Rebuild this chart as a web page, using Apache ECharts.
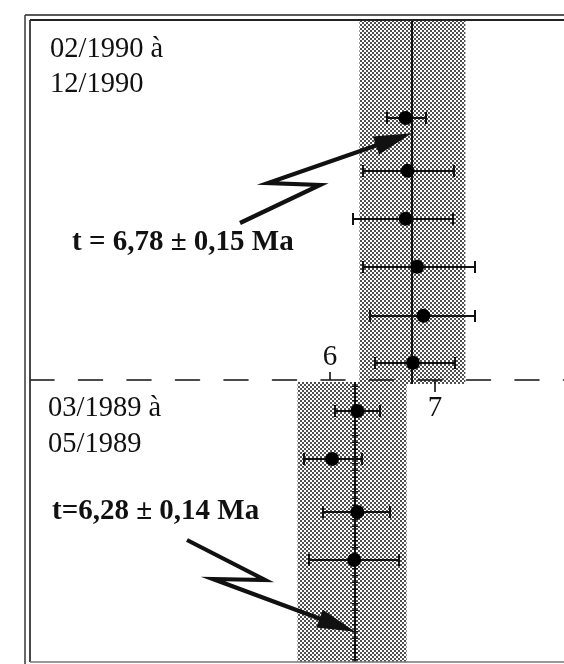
<!DOCTYPE html>
<html>
<head>
<meta charset="utf-8">
<script src="https://cdn.jsdelivr.net/npm/echarts@6/dist/echarts.min.js"></script>
<style>
  html, body { margin: 0; padding: 0; background: #fff; }
  #chart { width: 564px; height: 664px; }
</style>
</head>
<body>
<div id="chart"></div>
<script>
// Upper series (02/1990 - 12/1990), listed top to bottom
const topAges = [6.72, 6.74, 6.72, 6.83, 6.89, 6.79];
const topLow  = [6.54, 6.31, 6.22, 6.31, 6.38, 6.43];
const topHigh = [6.91, 7.18, 7.17, 7.38, 7.38, 7.19];
const topRows = [6.0, 4.92, 3.94, 2.96, 1.96, 1.0];
const topMean = 6.78;
const topErr = 0.15;
const topBand = [6.28, 7.29];

// Lower series (03/1989 - 05/1989), listed top to bottom
const botAges = [6.30, 6.06, 6.30, 6.27];
const botLow  = [6.09, 5.79, 5.97, 5.84];
const botHigh = [6.52, 6.34, 6.61, 6.70];
const botRows = [1.0, 1.97, 3.04, 4.01];
const botMean = 6.28;
const botErr = 0.14;
const botBand = [5.73, 6.77];

// Age axis tick labels (Ma)
const ticksAbove = [6];
const ticksBelow = [7];

const topTitle = ['02/1990 à', '12/1990'];
const botTitle = ['03/1989 à', '05/1989'];

const fmt = v => v.toFixed(2).replace('.', ',');
const topLabel = 't = ' + fmt(topMean) + ' ± ' + fmt(topErr) + ' Ma';
const botLabel = 't=' + fmt(botMean) + ' ± ' + fmt(botErr) + ' Ma';

const SERIF = '"Liberation Serif", "Times New Roman", serif';
const INK = '#111';

// Halftone-like screen for the shaded bands
function screenPattern() {
  const c = document.createElement('canvas');
  c.width = 4; c.height = 4;
  const g = c.getContext('2d');
  g.fillStyle = '#ffffff';
  g.fillRect(0, 0, 4, 4);
  g.fillStyle = '#505050';
  g.fillRect(0, 0, 2, 2);
  g.fillRect(2, 2, 2, 2);
  return { image: c, repeat: 'repeat' };
}
const screen = screenPattern();

function bandItem(extendTop, extendBottom) {
  return function (params, api) {
    const cs = params.coordSys;
    const a = api.coord([api.value(0), api.value(2)]);
    const b = api.coord([api.value(1), api.value(2)]);
    return {
      type: 'rect',
      shape: { x: a[0], y: cs.y - extendTop, width: b[0] - a[0], height: cs.height + extendTop + extendBottom },
      style: { fill: screen }
    };
  };
}

function meanItem(extendTop, extendBottom, hatched) {
  return function (params, api) {
    const cs = params.coordSys;
    const p = api.coord([api.value(0), api.value(1)]);
    const x = Math.round(p[0]);
    const y0 = cs.y - extendTop, y1 = cs.y + cs.height + extendBottom;
    const children = [{
      type: 'line',
      shape: { x1: x, y1: y0, x2: x, y2: y1 },
      style: { stroke: INK, lineWidth: 2 }
    }];
    if (hatched) {
      for (let y = y0 + 4; y < y1; y += 7) {
        children.push({
          type: 'line',
          shape: { x1: x - 3, y1: y + 0.5, x2: x + 3, y2: y + 0.5 },
          style: { stroke: INK, lineWidth: 1 }
        });
      }
    }
    return { type: 'group', children: children };
  };
}

function errItem(params, api) {
  const lo = api.coord([api.value(0), api.value(2)]);
  const hi = api.coord([api.value(1), api.value(2)]);
  const y = Math.round(lo[1]);
  const x0 = Math.round(lo[0]), x1 = Math.round(hi[0]);
  const cap = 6;
  const st = { stroke: INK, lineWidth: 2 };
  return {
    type: 'group',
    children: [
      { type: 'line', shape: { x1: x0, y1: y, x2: x1, y2: y }, style: st },
      { type: 'line', shape: { x1: x0, y1: y - cap, x2: x0, y2: y + cap }, style: st },
      { type: 'line', shape: { x1: x1, y1: y - cap, x2: x1, y2: y + cap }, style: st }
    ]
  };
}

const chart = echarts.init(document.getElementById('chart'), null, { renderer: 'canvas' });

const option = {
  backgroundColor: '#ffffff',
  animation: false,
  grid: [
    { left: 30, right: 0, top: 20, height: 360 },
    { left: 30, right: 0, top: 380, height: 282 }
  ],
  xAxis: [
    {
      gridIndex: 0, type: 'value', min: 3.14, max: 8.23, position: 'bottom', z: 5,
      splitLine: { show: false },
      axisLine: { show: true, onZero: false, lineStyle: { color: INK, width: 1.6, type: [24, 24.5] } },
      axisTick: { show: true, inside: true, length: 8, customValues: ticksAbove, lineStyle: { color: INK, width: 1.6 } },
      axisLabel: { show: true, inside: true, customValues: ticksAbove, margin: 8, color: INK, fontSize: 29, fontFamily: SERIF }
    },
    {
      gridIndex: 0, type: 'value', min: 3.14, max: 8.23, position: 'bottom', z: 5,
      splitLine: { show: false },
      axisLine: { show: false, onZero: false },
      axisTick: { show: true, inside: false, length: 12, customValues: ticksBelow, lineStyle: { color: INK, width: 1.6 } },
      axisLabel: { show: true, customValues: ticksBelow, margin: 14, color: INK, fontSize: 29, fontFamily: SERIF }
    },
    { gridIndex: 1, type: 'value', min: 3.18, max: 8.27, show: false }
  ],
  yAxis: [
    { gridIndex: 0, type: 'value', min: 0.65, max: 8.0, show: false },
    { gridIndex: 1, type: 'value', min: 0.374, max: 6.07, inverse: true, show: false }
  ],
  series: [
    {
      type: 'custom', xAxisIndex: 0, yAxisIndex: 0, z: 1, silent: true,
      data: [[topBand[0], topBand[1], 1]], encode: { x: [0, 1], y: 2 },
      renderItem: bandItem(0, 4)
    },
    {
      type: 'custom', xAxisIndex: 2, yAxisIndex: 1, z: 1, silent: true,
      data: [[botBand[0], botBand[1], 1]], encode: { x: [0, 1], y: 2 },
      renderItem: bandItem(-2, 0)
    },
    {
      type: 'custom', xAxisIndex: 0, yAxisIndex: 0, z: 2, silent: true,
      data: [[topMean, 1]], encode: { x: 0, y: 1 },
      renderItem: meanItem(0, 4, false)
    },
    {
      type: 'custom', xAxisIndex: 2, yAxisIndex: 1, z: 2, silent: true,
      data: [[botMean, 1]], encode: { x: 0, y: 1 },
      renderItem: meanItem(-2, 0, true)
    },
    {
      type: 'custom', xAxisIndex: 0, yAxisIndex: 0, z: 3, silent: true,
      data: topLow.map((v, i) => [v, topHigh[i], topRows[i]]), encode: { x: [0, 1], y: 2 },
      renderItem: errItem
    },
    {
      type: 'custom', xAxisIndex: 2, yAxisIndex: 1, z: 3, silent: true,
      data: botLow.map((v, i) => [v, botHigh[i], botRows[i]]), encode: { x: [0, 1], y: 2 },
      renderItem: errItem
    },
    {
      type: 'scatter', xAxisIndex: 0, yAxisIndex: 0, z: 4, silent: true,
      symbol: 'circle', symbolSize: 14, itemStyle: { color: '#000', opacity: 1 },
      data: topAges.map((v, i) => [v, topRows[i]])
    },
    {
      type: 'scatter', xAxisIndex: 2, yAxisIndex: 1, z: 4, silent: true,
      symbol: 'circle', symbolSize: 14, itemStyle: { color: '#000', opacity: 1 },
      data: botAges.map((v, i) => [v, botRows[i]])
    }
  ]
};
chart.setOption(option);

// Lightning-bolt pointer: a zig-zag shaft ending in a filled arrowhead at the tip
function bolt(points, tip, headLen, headHalf) {
  const last = points[points.length - 1];
  const dx = tip[0] - last[0], dy = tip[1] - last[1];
  const len = Math.sqrt(dx * dx + dy * dy);
  const ux = dx / len, uy = dy / len;
  const bx = tip[0] - ux * headLen, by = tip[1] - uy * headLen;
  const nx = -uy, ny = ux;
  return [
    {
      type: 'polyline', silent: true, z: 20,
      shape: { points: points.concat([[bx + ux * 4, by + uy * 4]]) },
      style: { stroke: INK, lineWidth: 4.2, fill: null, lineJoin: 'miter' }
    },
    {
      type: 'polygon', silent: true, z: 20,
      shape: { points: [tip, [bx + nx * headHalf, by + ny * headHalf], [bx - nx * headHalf, by - ny * headHalf]] },
      style: { fill: INK }
    }
  ];
}

const tipTop = chart.convertToPixel({ xAxisIndex: 0, yAxisIndex: 0 }, [topMean, 5.69]);
const tipBot = chart.convertToPixel({ xAxisIndex: 2, yAxisIndex: 1 }, [botMean, 5.46]);

function frameLine(x1, y1, x2, y2, w, c) {
  return { type: 'line', silent: true, z: 30, shape: { x1, y1, x2, y2 }, style: { stroke: c, lineWidth: w } };
}
function label(x, y, text, weight, size) {
  return {
    type: 'text', silent: true, z: 25, x: x, y: y,
    style: { text: text, fill: INK, font: weight + ' ' + size + 'px ' + SERIF, verticalAlign: 'middle', align: 'left' }
  };
}

chart.setOption({
  graphic: [
    frameLine(25, 15, 564, 15, 1.6, '#222'),
    frameLine(30, 20, 564, 20, 2, '#222'),
    frameLine(25, 15, 25, 664, 1.6, '#444'),
    frameLine(30, 20, 30, 662, 1.8, '#333'),
    frameLine(30, 662, 564, 662, 1.6, '#777'),
    label(50, 50, topTitle[0], 'normal', 28.5),
    label(50, 85, topTitle[1], 'normal', 28.5),
    label(48, 409, botTitle[0], 'normal', 28.5),
    label(48, 445, botTitle[1], 'normal', 28.5),
    label(72, 243, topLabel, 'bold', 29),
    label(52, 512, botLabel, 'bold', 29)
  ]
    .concat(bolt([[240, 223], [320, 185], [268, 183]], tipTop, 38, 9.5))
    .concat(bolt([[187, 540], [265, 580], [213, 579]], tipBot, 38, 9.5))
});
</script>
</body>
</html>
